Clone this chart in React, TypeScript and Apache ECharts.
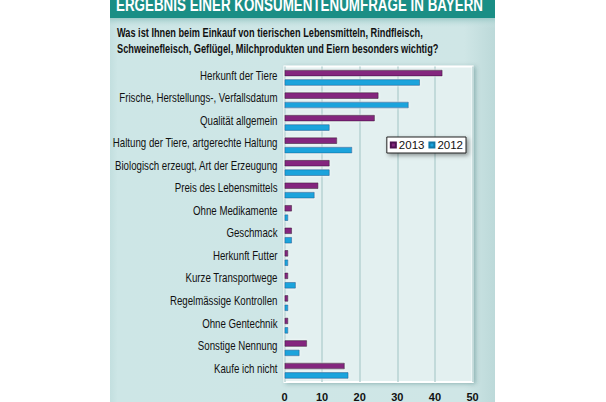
import React, { useEffect, useRef } from "react";
import * as echarts from "echarts";

const categories = [
  "Herkunft der Tiere",
  "Frische, Herstellungs-, Verfallsdatum",
  "Qualität allgemein",
  "Haltung der Tiere, artgerechte Haltung",
  "Biologisch erzeugt, Art der Erzeugung",
  "Preis des Lebensmittels",
  "Ohne Medikamente",
  "Geschmack",
  "Herkunft Futter",
  "Kurze Transportwege",
  "Regelmässige Kontrollen",
  "Ohne Gentechnik",
  "Sonstige Nennung",
  "Kaufe ich nicht",
];
const values2013 = [42, 25, 24, 14, 12, 9, 2, 2, 1, 1, 1, 1, 6, 16];
const values2012 = [36, 33, 12, 18, 12, 8, 1, 2, 1, 3, 1, 1, 4, 17];
const seriesNames = ["2013", "2012"];
const xTicks = { min: 0, max: 50, interval: 10 };
const titleText = "ERGEBNIS EINER KONSUMENTENUMFRAGE IN BAYERN";
const subtitleLines = [
  "Was ist Ihnen beim Einkauf von tierischen Lebensmitteln, Rindfleisch,",
  "Schweinefleisch, Geflügel, Milchprodukten und Eiern besonders wichtig?",
];

const FONT = "'Liberation Sans', Arial, sans-serif";

function measure(text: string, font: string): number {
  const ctx = document.createElement("canvas").getContext("2d")!;
  ctx.font = font;
  return ctx.measureText(text).width;
}

export default function App() {
  const ref = useRef<HTMLDivElement>(null);
  useEffect(() => {
    document.body.style.margin = "0";
    const chart = echarts.init(ref.current!, null, { renderer: "svg" });

    const titleFont = `bold 18px ${FONT}`;
    const subFont = `bold 12.5px ${FONT}`;
    const catFont = `12px ${FONT}`;
    const titleScale = 367 / measure(titleText, titleFont);
    const sub1Scale = 306 / measure(subtitleLines[0], subFont);
    const sub2Scale = 322 / measure(subtitleLines[1], subFont);
    const catScale = 165 / measure(categories[3], catFont);

    chart.setOption({
      animation: false,
      backgroundColor: "#ffffff",
      textStyle: { fontFamily: FONT },
      graphic: [
        {
          type: "rect",
          z: -10,
          shape: { x: 110, y: 0, width: 385, height: 402 },
          style: {
            fill: new echarts.graphic.LinearGradient(0, 0, 1, 0, [
              { offset: 0, color: "#c3dfdf" },
              { offset: 0.02, color: "#cde6e6" },
              { offset: 0.92, color: "#cfe6e6" },
              { offset: 1, color: "#bcd9d9" },
            ]),
          },
        },
        {
          type: "rect",
          z: -9,
          shape: { x: 110, y: 18, width: 385, height: 10 },
          style: {
            fill: new echarts.graphic.LinearGradient(0, 0, 0, 1, [
              { offset: 0, color: "#9cc9c7" },
              { offset: 1, color: "rgba(205,230,230,0)" },
            ]),
          },
        },
        {
          type: "rect",
          z: -8,
          shape: { x: 110, y: 0, width: 385, height: 18 },
          style: { fill: "#1a8e85" },
        },
        {
          type: "text",
          x: 116,
          y: 4.5,
          scaleX: titleScale,
          style: {
            text: titleText,
            fill: "#ffffff",
            font: titleFont,
            verticalAlign: "middle",
          },
        },
        {
          type: "text",
          x: 117,
          y: 32.5,
          scaleX: sub1Scale,
          style: {
            text: subtitleLines[0],
            fill: "#111111",
            font: subFont,
            verticalAlign: "middle",
          },
        },
        {
          type: "text",
          x: 117,
          y: 48,
          scaleX: sub2Scale,
          style: {
            text: subtitleLines[1],
            fill: "#111111",
            font: subFont,
            verticalAlign: "middle",
          },
        },
      ],
      legend: {
        data: seriesNames,
        right: 140,
        top: 137,
        orient: "horizontal",
        backgroundColor: "#ffffff",
        borderColor: "#222222",
        borderWidth: 1,
        borderRadius: 0,
        padding: [2, 3, 2, 3],
        itemGap: 4,
        itemWidth: 5,
        itemHeight: 5,
        shadowBlur: 4,
        shadowColor: "rgba(0,0,0,0.4)",
        shadowOffsetX: 2,
        shadowOffsetY: 2,
        icon: "rect",
        textStyle: { fontSize: 11.5, color: "#111", fontFamily: FONT, padding: [0, 0, 0, -2] },
      },
      grid: {
        left: 284.5,
        right: 133.4,
        top: 66.5,
        bottom: 10.8,
        show: true,
        backgroundColor: "#e3f0f0",
        borderColor: "#ffffff",
        borderWidth: 2,
        shadowBlur: 4,
        shadowColor: "rgba(0,60,60,0.3)",
        shadowOffsetX: 2,
        shadowOffsetY: 1,
      },
      xAxis: {
        type: "value",
        min: xTicks.min,
        max: xTicks.max,
        interval: xTicks.interval,
        axisLine: { show: false },
        axisTick: { show: false },
        axisLabel: { color: "#111", fontSize: 11, fontWeight: "bold", margin: 9, fontFamily: FONT },
        splitLine: { lineStyle: { color: "#b7d3d3", width: 1.5 } },
      },
      yAxis: {
        type: "category",
        data: categories,
        inverse: true,
        axisLine: { show: false },
        axisTick: { show: false },
        axisLabel: { show: false },
      },
      series: [
        {
          name: seriesNames[0],
          type: "bar",
          data: values2013,
          barWidth: 6.5,
          barGap: "45%",
          itemStyle: {
            color: "#84287e",
            borderColor: "#4f1050",
            borderWidth: 0.8,
            shadowBlur: 2,
            shadowColor: "rgba(255,255,255,0.9)",
          },
        },
        {
          name: seriesNames[1],
          type: "bar",
          data: values2012,
          barWidth: 6.5,
          barGap: "45%",
          itemStyle: {
            color: "#1ba3dc",
            borderColor: "#0f78a8",
            borderWidth: 0.8,
            shadowBlur: 2,
            shadowColor: "rgba(255,255,255,0.9)",
          },
        },
        {
          name: "labels",
          type: "custom",
          silent: true,
          clip: false,
          data: categories.map((_, i) => [0, i]),
          encode: { x: 0, y: 1 },
          renderItem: (params: any, api: any) => {
            const p = api.coord([0, api.value(1)]);
            return {
              type: "text",
              x: p[0] - 7,
              y: p[1] - 2.5,
              scaleX: catScale,
              style: {
                text: categories[params.dataIndex],
                font: catFont,
                fill: "#111111",
                align: "right",
                verticalAlign: "middle",
              },
            };
          },
        },
      ],
    });
    return () => chart.dispose();
  }, []);
  return <div ref={ref} style={{ width: 606, height: 402 }} />;
}
